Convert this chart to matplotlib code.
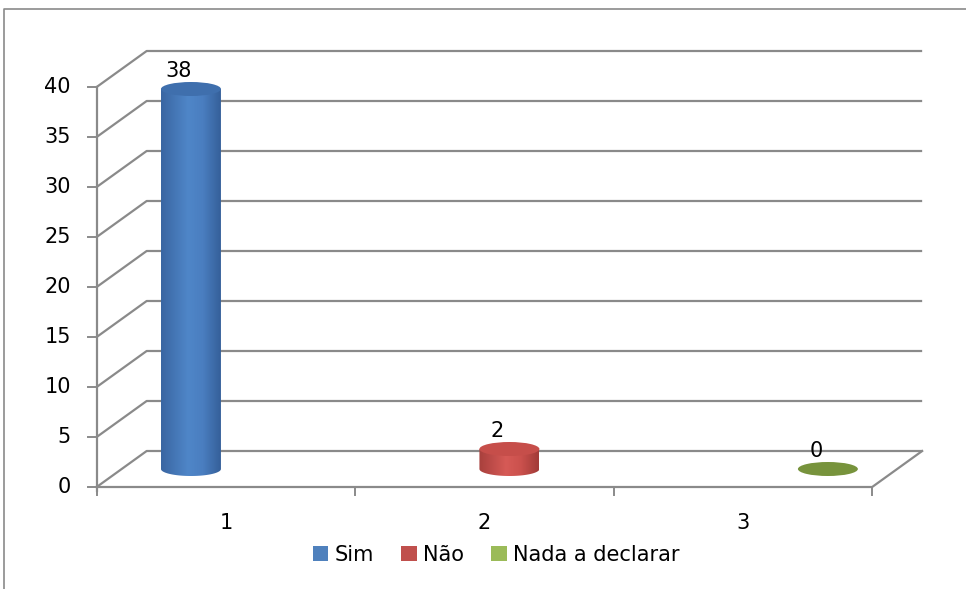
import numpy as np
import matplotlib.pyplot as plt
from matplotlib.patches import Ellipse, Polygon, Patch
from matplotlib.colors import LinearSegmentedColormap
from matplotlib.lines import Line2D

# dados do gráfico
categorias = ['1', '2', '3']
series = ['Sim', 'Não', 'Nada a declarar']
valores = [38, 2, 0]          # cada série só tem valor na sua própria categoria
yticks = [0, 5, 10, 15, 20, 25, 30, 35, 40]

cores = ['#4F81BD', '#C0504D', '#9BBB59']
cores_topo = ['#3F6FAD', '#C64E4A', '#77933C']
gradientes = [
    ['#3A66A2', '#4F86C8', '#4A7EC0', '#35609A'],
    ['#A8403D', '#D65A56', '#CB514D', '#A23B38'],
    ['#6F8A36', '#A5C460', '#8EAE4E', '#6A8533'],
]

plt.rcParams['font.family'] = ['DejaVu Sans']
fs = 15
cinza = '#8a8a8a'

fig = plt.figure(figsize=(9.66, 5.89), dpi=100)
ax = fig.add_axes([0, 0, 1, 1])
ax.set_xlim(0.126, 3.863)
ax.set_ylim(-10.2, 48.7)
ax.axis('off')

# profundidade da "caixa" 3D
dx = 0.1934
dy = 3.6
x0, x1 = 0.5, len(categorias) + 0.5

# paredes: linhas de grade no fundo e na lateral esquerda
for v in yticks:
    ax.plot([x0, x0 + dx, x1 + dx], [v, v + dy, v + dy], color=cinza, lw=1.6, zorder=1,
            solid_capstyle='butt')
    ax.plot([x0 - 0.035, x0], [v, v], color=cinza, lw=1.4, zorder=1)
    ax.text(0.40, v, str(v), ha='right', va='center', fontsize=fs)

# eixo vertical da frente e chão
ax.plot([x0, x0], [-0.4, yticks[-1]], color=cinza, lw=1.6, zorder=1)
ax.plot([x0, x1, x1 + dx], [0, 0, dy], color=cinza, lw=1.6, zorder=1)
for k in range(len(categorias) + 1):
    ax.plot([x0 + k, x0 + k], [0, -0.8], color=cinza, lw=1.4, zorder=1)

for i, c in enumerate(categorias):
    ax.text(i + 1, -3.6, c, ha='center', va='center', fontsize=fs)

# cilindros
w = 0.232
eh = 1.4
for j, (v, nome) in enumerate(zip(valores, series)):
    cat = j + 1
    cx = cat + (j - 1) * w + dx / 2
    base = dy / 2
    topo = v + dy / 2
    if v > 0:
        t = np.linspace(np.pi, 2 * np.pi, 60)
        arco = np.column_stack([cx + w / 2 * np.cos(t), base + eh / 2 * np.sin(t)])
        contorno = np.vstack([[cx - w / 2, topo], arco, [cx + w / 2, topo]])
        clip = Polygon(contorno, closed=True, transform=ax.transData)
        cmap = LinearSegmentedColormap.from_list('g%d' % j, list(zip([0, 0.45, 0.7, 1], gradientes[j])))
        img = ax.imshow(np.linspace(0, 1, 100)[None, :], cmap=cmap, aspect='auto',
                        extent=[cx - w / 2, cx + w / 2, base - eh / 2, topo],
                        zorder=3, interpolation='bilinear')
        img.set_clip_path(clip)
    ax.add_patch(Ellipse((cx, topo), w, eh, facecolor=cores_topo[j], edgecolor='none', zorder=4))
    ax.text(cat + (j - 1) * w + 0.05, v + 3.0, str(v), ha='center', va='baseline', fontsize=fs, zorder=5)

ax.set_xlim(0.126, 3.863)
ax.set_ylim(-10.2, 48.7)

# legenda
alcas = [Patch(facecolor=c, edgecolor='none') for c in cores]
fig.legend(alcas, series, loc='center', bbox_to_anchor=(496 / 966, 1 - 555 / 589), ncol=3,
           frameon=False, fontsize=fs, handlelength=0.75, handleheight=0.75,
           handletextpad=0.3, columnspacing=1.3)

# moldura da área do gráfico
fig.add_artist(Line2D([4 / 966, 4 / 966, 1], [0, 1 - 9 / 589, 1 - 9 / 589], color='#8a8a8a', lw=1.2))

fig.savefig('out.png', dpi=100)
